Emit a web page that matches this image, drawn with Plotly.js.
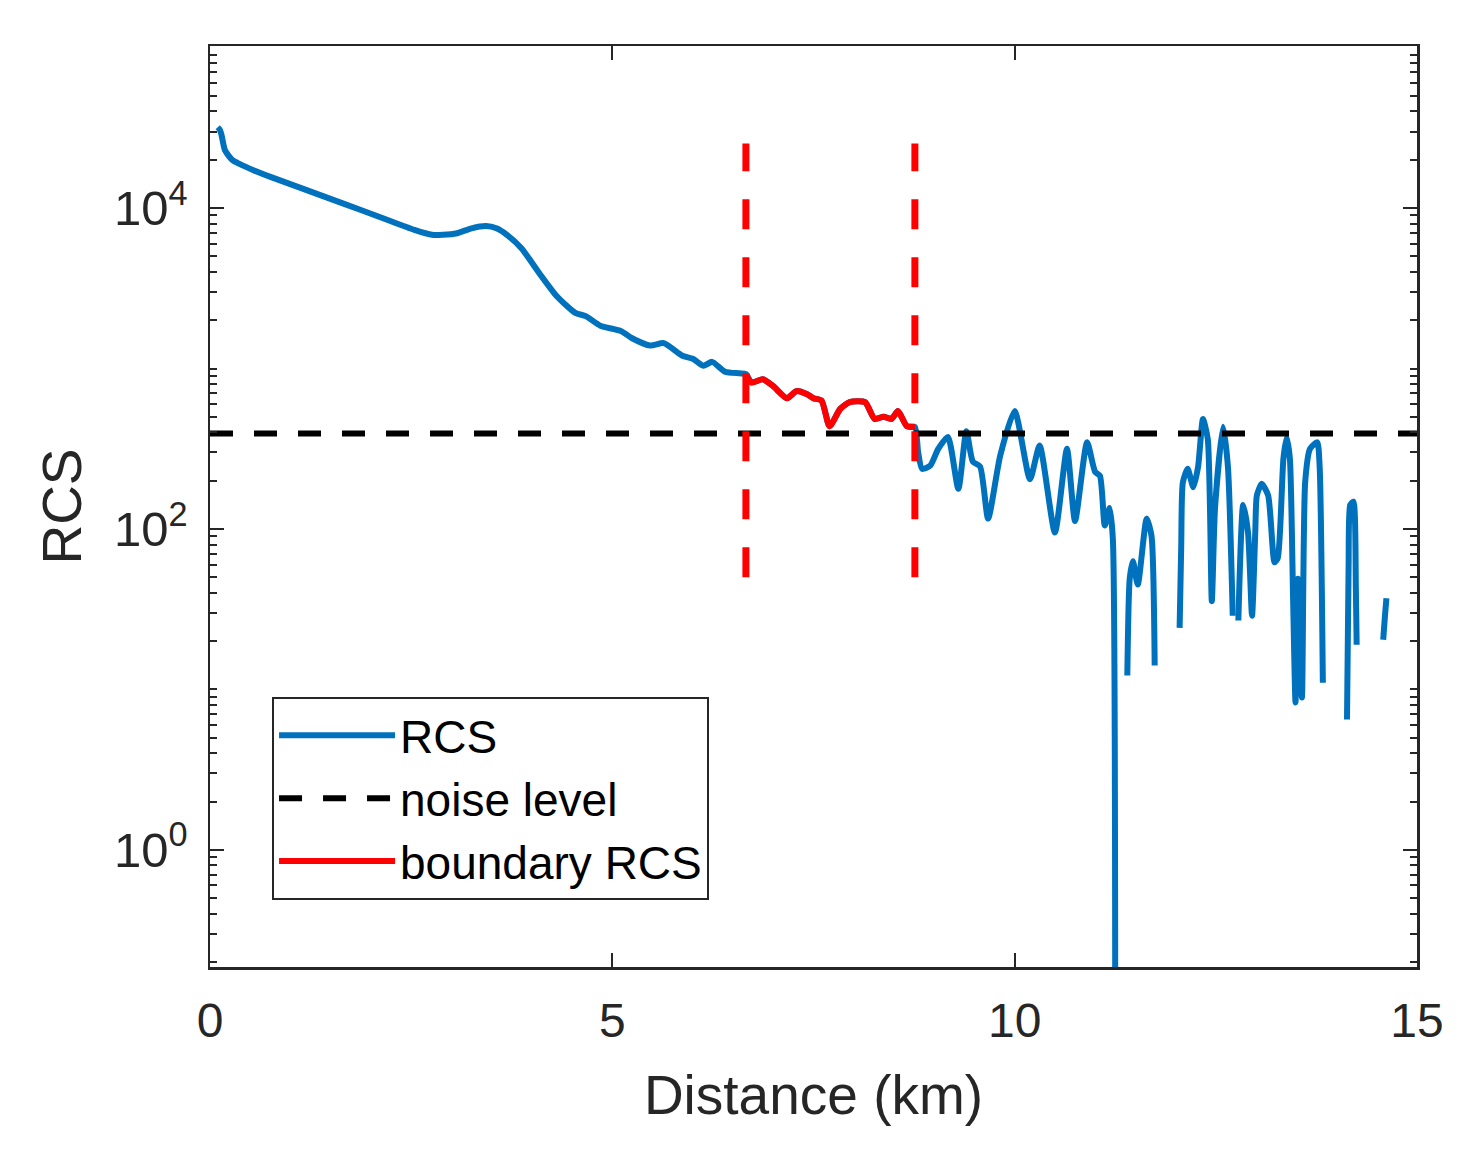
<!DOCTYPE html>
<html>
<head>
<meta charset="utf-8">
<script src="https://cdn.plot.ly/plotly-3.0.1.min.js"></script>
<style>
  html, body { margin: 0; padding: 0; background: #ffffff; }
  #chart { width: 1481px; height: 1161px; }
</style>
</head>
<body>
<div id="chart"></div>
<script>
// ---- data ----
const rcsDistance = [
  0.096, 0.12, 0.14, 0.186, 0.274, 0.36, 0.54, 0.76, 1.21, 1.65,
  2.10, 2.54, 2.76, 2.89, 3.07, 3.25, 3.43, 3.56, 3.69, 3.87,
  4.09, 4.31, 4.54, 4.67, 4.85, 5.11, 5.24, 5.47, 5.64, 5.87,
  6.00, 6.13, 6.24, 6.40, 6.58,
  6.66, 6.73, 6.87, 7.00, 7.17, 7.29, 7.42, 7.50, 7.60, 7.70,
  7.83, 7.95, 8.14, 8.26, 8.37, 8.47, 8.55, 8.66, 8.76,
  8.80, 8.85, 8.95, 9.05, 9.17, 9.30, 9.40, 9.48, 9.57, 9.67,
  9.82, 10.00, 10.19, 10.31, 10.50, 10.65, 10.75, 10.90, 11.00, 11.06,
  11.12, 11.18, 11.22, 11.25, 11.30,
  11.40, 11.43, 11.47, 11.53, 11.64, 11.70, 11.74, 11.80,
  12.05, 12.07, 12.09, 12.15, 12.22, 12.28, 12.34, 12.40, 12.45, 12.49,
  12.59, 12.65, 12.71, 12.74,
  12.78, 12.84, 12.90, 12.95, 12.99, 13.01, 13.07, 13.15, 13.23, 13.27,
  13.34, 13.38, 13.42, 13.46, 13.49, 13.52, 13.57, 13.61, 13.67, 13.76,
  13.79, 13.83, 13.90,
  14.13, 14.15, 14.17, 14.21, 14.24, 14.25, 14.40,
  14.58, 14.60, 14.62
];
const rcsValue = [
  31900, 30900, 29000, 22900, 20000, 18900, 17200, 15600, 12900, 10700,
  8830, 7310, 6810, 6810, 6970, 7480, 7730, 7480, 6810, 5620,
  3940, 2820, 2220, 2120, 1850, 1710, 1550, 1390, 1440, 1200,
  1150, 1040, 1100, 955, 933,
  923, 818, 857, 776, 653, 724, 692, 653, 631, 437,
  558, 617, 617, 485, 501, 485, 543, 437, 432,
  302, 237, 248, 316, 375, 178, 407, 263, 245, 116,
  286, 543, 204, 331, 95, 316, 112, 347, 227, 214,
  105, 135, 87, 0.03, null,
  12.2, 49, 63, 45, 116, 91, 14.1, null,
  24.2, 79, 195, 237, 182, 245, 484, 363, 35.5, 135,
  433, 245, 28.8, null,
  26.9, 141, 95, 28.8, 95, 162, 191, 162, 62, 66,
  275, 372, 275, 37, 8.3, 49, 8.9, 195, 316, 347,
  245, 11, null,
  6.5, 59, 141, 148, 43, 19, null,
  20.4, 28, 37
];
const noiseDistance = [0, 15];
const noiseValue = [393, 393];
const boundaryDistance = [6.66, 8.76];   // km, boundary markers
const boundaryMarkerRange = [50, 25300]; // RCS extent of the marker lines
const yTickValues = [1, 100, 10000];
const yTickLabels = ['10<sup>0</sup>', '10<sup>2</sup>', '10<sup>4</sup>'];
const xTickValues = [0, 5, 10, 15];

// boundary RCS = the part of RCS between the two boundary markers
const bx = [], by = [];
rcsDistance.forEach((d, i) => {
  if (d >= boundaryDistance[0] && d <= boundaryDistance[1]) { bx.push(d); by.push(rcsValue[i]); }
});

// minor log ticks (2..9 x each decade)
const minorVals = [];
for (let e = -1; e <= 4; e++) {
  for (let m = 1; m <= 9; m++) {
    const v = m * Math.pow(10, e);
    if (yTickValues.indexOf(v) === -1) minorVals.push(v);
  }
}

const FONT = 'Liberation Sans, Arial, Helvetica, sans-serif';
const AX = '#262626';

const traces = [
  { x: rcsDistance, y: rcsValue, type: 'scatter', mode: 'lines', name: 'RCS',
    line: { color: '#0072BD', width: 6, shape: 'spline', smoothing: 0.6 }, connectgaps: false },
  { x: noiseDistance, y: noiseValue, type: 'scatter', mode: 'lines', name: 'noise level',
    line: { color: '#000000', width: 6, dash: '23px,21px' } },
  { x: bx, y: by, type: 'scatter', mode: 'lines', name: 'boundary RCS',
    line: { color: '#FF0000', width: 6, shape: 'spline', smoothing: 0.6 } },
  { x: [boundaryDistance[0], boundaryDistance[0]], y: boundaryMarkerRange, type: 'scatter', mode: 'lines',
    showlegend: false, hoverinfo: 'skip', line: { color: '#FF0000', width: 7, dash: '30px,28px' } },
  { x: [boundaryDistance[1], boundaryDistance[1]], y: boundaryMarkerRange, type: 'scatter', mode: 'lines',
    showlegend: false, hoverinfo: 'skip', line: { color: '#FF0000', width: 7, dash: '30px,28px' } }
];

const layout = {
  width: 1481, height: 1161,
  paper_bgcolor: '#ffffff', plot_bgcolor: '#ffffff',
  margin: { l: 210, r: 64, t: 46, b: 194, pad: 0 },
  font: { family: FONT, color: AX },
  showlegend: true,
  legend: {
    x: 0.0514, y: 0.2932, xanchor: 'left', yanchor: 'top',
    bgcolor: '#ffffff', bordercolor: AX, borderwidth: 2,
    font: { family: FONT, size: 46, color: '#000000' },
    itemwidth: 116, traceorder: 'normal', entrywidth: 320, entrywidthmode: 'pixels'
  },
  xaxis: {
    range: [0, 15], tickmode: 'array', tickvals: xTickValues,
    ticks: 'inside', ticklen: 14, tickwidth: 2, tickcolor: AX,
    showline: true, linecolor: AX, linewidth: 2.5, mirror: 'ticks',
    showgrid: false, zeroline: false, ticklabelstandoff: 10,
    tickfont: { family: FONT, size: 48, color: AX },
    title: { text: 'Distance (km)', font: { family: FONT, size: 55, color: AX }, standoff: 30 }
  },
  yaxis: {
    type: 'log', range: [-0.73, 5.01],
    tickmode: 'array', tickvals: yTickValues, ticktext: yTickLabels,
    ticks: 'inside', ticklen: 14, tickwidth: 2, tickcolor: AX,
    minor: { tickmode: 'array', tickvals: minorVals, ticks: 'inside', ticklen: 7, tickwidth: 2, tickcolor: AX, showgrid: false },
    showline: true, linecolor: AX, linewidth: 2.5, mirror: 'ticks',
    showgrid: false, zeroline: false, ticklabelstandoff: 10,
    tickfont: { family: FONT, size: 49, color: AX },
    title: { text: 'RCS', font: { family: FONT, size: 55, color: AX }, standoff: 15 }
  }
};

Plotly.newPlot('chart', traces, layout, { staticPlot: true, displayModeBar: false });
</script>
</body>
</html>
